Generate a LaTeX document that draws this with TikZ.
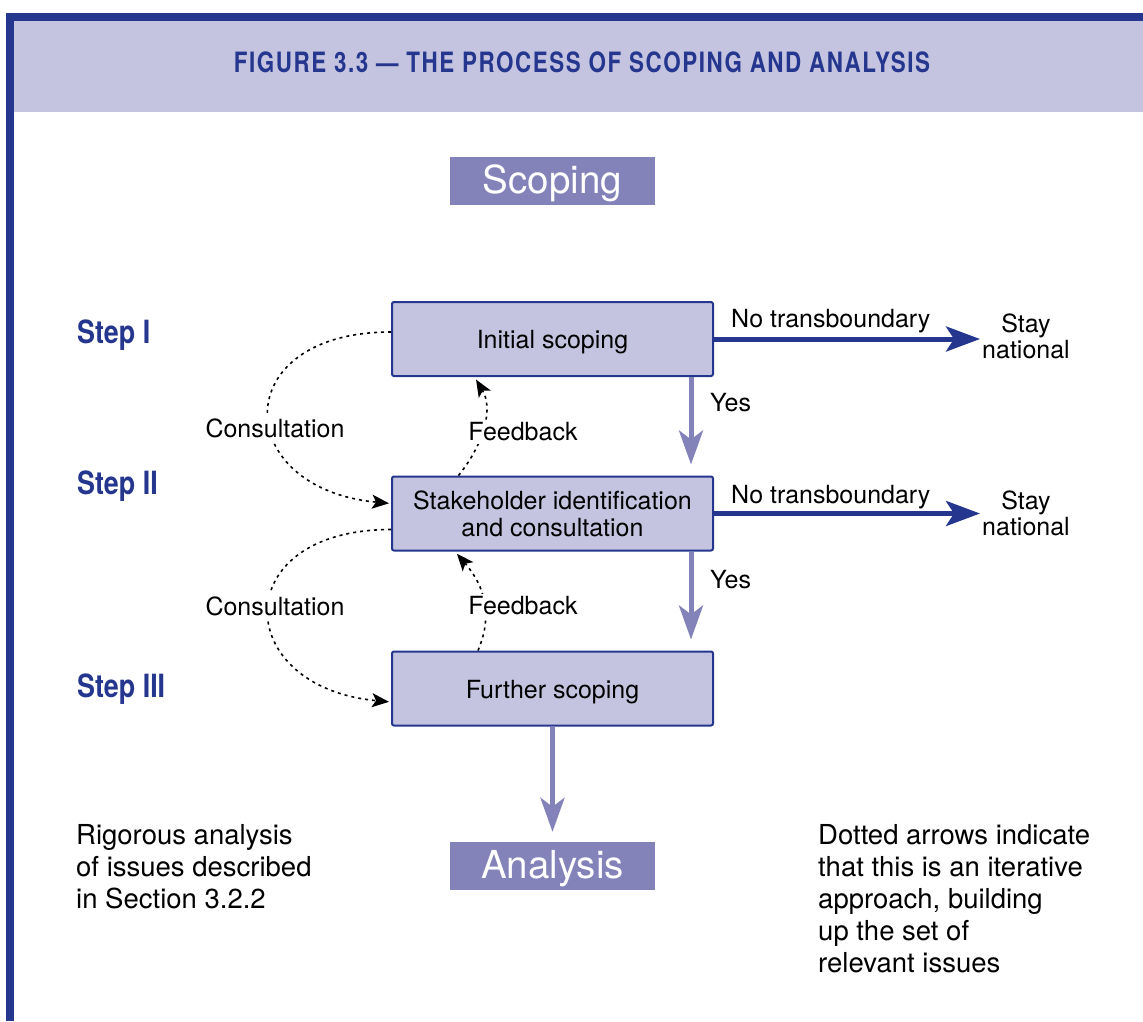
\documentclass[tikz,border=0pt]{standalone}
\usepackage{fontspec}
\setmainfont{TeX Gyre Heros}
\newfontfamily\condfont[FakeStretch=0.8,LetterSpace=5.6]{TeX Gyre Heros}
\newfontfamily\stepfont[FakeStretch=0.84]{TeX Gyre Heros}
\usepackage{tikz}
\usetikzlibrary{arrows.meta}
\definecolor{figblue}{RGB}{37,54,143}
\definecolor{figlight}{RGB}{196,196,224}
\definecolor{figmid}{RGB}{131,131,186}

\begin{document}
\begin{tikzpicture}[x=1pt, y=-1pt,
  stagebox/.style={draw=figblue, fill=figlight, line width=2pt, rounded corners=2pt, minimum width=321pt, minimum height=74pt, align=center, inner sep=0pt, font=\fontsize{25}{27}\selectfont},
  oneline/.style={text height=24pt, text depth=5pt},
  titlebox/.style={fill=figmid, text=white, minimum width=205pt, minimum height=48pt, inner sep=0pt, text height=32pt, text depth=8pt, font=\fontsize{38.5}{40}\selectfont},
  steplabel/.style={anchor=base west, text=figblue, inner sep=0pt, font=\stepfont\bfseries\fontsize{32}{34}\selectfont},
  lbl/.style={inner sep=0pt, font=\fontsize{25}{26}\selectfont},
  iterlabel/.style={fill=white, inner sep=3pt, font=\fontsize{25}{26}\selectfont},
  note/.style={anchor=north west, align=left, inner sep=0pt, font=\fontsize{27.5}{32}\selectfont},
  notrans/.style={line width=5pt, figblue, -{Stealth[length=34pt,width=25pt,inset=8pt]}},
  yesarrow/.style={line width=5pt, figmid, -{Stealth[length=34pt,width=24pt,inset=9pt]}},
  iter/.style={black, line width=1.6pt, dash pattern=on 3pt off 4pt, -{Stealth[length=17pt,width=14pt,inset=4pt]}}
]
\useasboundingbox (0,0) rectangle (1143,1021);
\fill[figlight] (14,21) rectangle (1143,112);
\fill[figblue] (6,13) rectangle (1143,21);
\fill[figblue] (6,13) rectangle (14,1021);
\node[anchor=base, text=figblue, inner sep=0pt, font=\condfont\bfseries\fontsize{28}{30}\selectfont] (title) at (582,72) {FIGURE 3.3 — THE PROCESS OF SCOPING AND ANALYSIS};

\node[titlebox] (scoping) at (552.5,181) {Scoping};
\node[stagebox, oneline] (init) at (552.5,339) {Initial scoping};
\node[stagebox] (stake) at (552.5,513.5) {Stakeholder identification\\and consultation};
\node[stagebox, oneline] (further) at (552.5,688.5) {Further scoping};
\node[titlebox] (analysis) at (552.5,866) {Analysis};

\node[steplabel] (step1) at (77,343) {Step I};
\node[steplabel] (step2) at (77,494) {Step II};
\node[steplabel] (step3) at (77,697) {Step III};

\node[lbl, align=center, inner sep=2pt] (stay1) at (1026,336) {Stay\\national};
\node[lbl, align=center, inner sep=2pt] (stay2) at (1026,513) {Stay\\national};
\draw[notrans] (init.east) -- (init.east -| stay1.west);
\draw[notrans] (stake.east) -- (stake.east -| stay2.west);
\node[lbl, anchor=base west] (no1) at (731,327) {No transboundary};
\node[lbl, anchor=base west] (no2) at (731,503) {No transboundary};

\draw[yesarrow, shorten >=11pt] ([xshift=-23pt]init.south east) -- ([xshift=-23pt]stake.north east);
\draw[yesarrow, shorten >=11pt] ([xshift=-23pt]stake.south east) -- ([xshift=-23pt]further.north east);
\draw[yesarrow, shorten >=10pt] (further.south) -- (analysis.north);
\node[lbl, anchor=west] (yes1) at (710,403) {Yes};
\node[lbl, anchor=west] (yes2) at (710,580) {Yes};

\draw[iter, shorten >=2pt] ([yshift=7pt]init.west) .. controls +(-165,0) and +(-160,-15) .. ([yshift=10pt]stake.west);
\draw[iter, shorten >=2pt] ([yshift=-16pt]stake.west) .. controls +(-165,0) and +(-160,-15) .. ([yshift=-13.5pt]further.west);
\draw[iter, shorten >=3pt] ([xshift=-94pt]stake.north) .. controls +(28,-35) and +(18,30) .. ([xshift=-78pt]init.south);
\draw[iter, shorten >=3pt] ([xshift=-74.5pt]further.north) .. controls +(15,-35) and +(30,35) .. ([xshift=-97.5pt]stake.south);
\node[iterlabel] (cons1) at (275,428) {Consultation};
\node[iterlabel] (cons2) at (275,606) {Consultation};
\node[iterlabel] (feed1) at (523,432) {Feedback};
\node[iterlabel] (feed2) at (523,606) {Feedback};

\node[note] (rigor) at (76,824) {Rigorous analysis\\of issues described\\in Section 3.2.2};
\node[note] (dotted) at (818,824) {Dotted arrows indicate\\that this is an iterative\\approach, building\\up the set of\\relevant issues};
\end{tikzpicture}
\end{document}
